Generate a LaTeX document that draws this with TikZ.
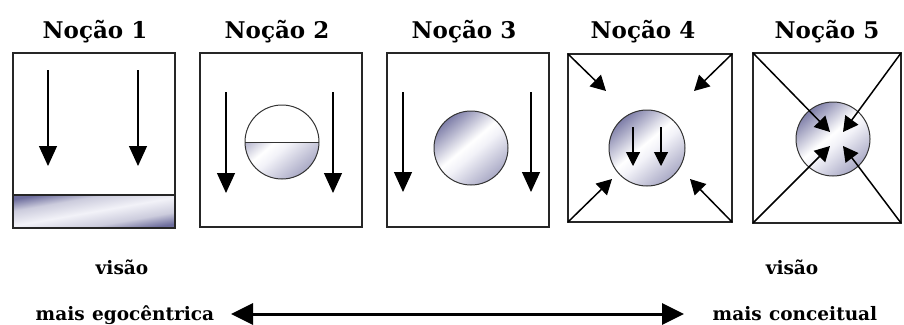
\documentclass[tikz,border=0pt]{standalone}
\usepackage{fontspec}
\setmainfont{DejaVu Serif}
\usetikzlibrary{arrows.meta}
\definecolor{gdark}{RGB}{84,84,140}
\definecolor{glight}{RGB}{242,242,248}
\pgfdeclarehorizontalshading{ball}{100bp}{color(0bp)=(gdark!50); color(25bp)=(gdark!50); color(46bp)=(glight); color(53bp)=(white); color(75bp)=(gdark!75); color(100bp)=(gdark!75)}
\pgfdeclarehorizontalshading{band}{100bp}{color(0bp)=(gdark!90); color(25bp)=(gdark!85); color(36bp)=(gdark!30); color(50bp)=(glight); color(64bp)=(gdark!30); color(75bp)=(gdark!85); color(100bp)=(gdark!90)}
\tikzset{
  boxline/.style={draw=black!85, line width=1.6pt},
  ballfill/.style={shading=ball, shading angle=130},
  ballline/.style={draw=black!80, line width=1pt},
  dnarrow/.style={-{Triangle[width=18pt,length=20pt]}, line width=1.2pt},
  inarrow/.style={-{Triangle[width=14pt,length=14pt]}, line width=1.1pt},
  diagarrow/.style={-{Triangle[width=16pt,length=15pt]}, line width=1.5pt},
  titletext/.style={font=\fontsize{23}{26}\selectfont\bfseries, anchor=base, inner sep=0pt},
  bottext/.style={font=\fontsize{18.5}{21}\selectfont\bfseries, anchor=base, inner sep=0pt},
  bigarrow/.style={{Triangle[width=21pt,length=22pt]}-{Triangle[width=21pt,length=22pt]}, line width=3pt}
}
\begin{document}
\begin{tikzpicture}[x=1pt,y=-1pt]
\useasboundingbox (0,0) rectangle (904,324);
% titles
\node[titletext] (t1) at (95,38) {Noção 1};
\node[titletext] (t2) at (277,38) {Noção 2};
\node[titletext] (t3) at (464,38) {Noção 3};
\node[titletext] (t4) at (643,38) {Noção 4};
\node[titletext] (t5) at (827,38) {Noção 5};

% ---- box 1
\shade[shading=band, shading angle=100] (13,195) rectangle (175,228);
\draw[boxline] (13,53) rectangle (175,228);
\draw[boxline] (13,195) -- (175,195);
\coordinate (a1s) at (48,70); \coordinate (a1e) at (48,166);
\coordinate (b1s) at (138,70); \coordinate (b1e) at (138,166);
\draw[dnarrow] (a1s) -- (a1e);
\draw[dnarrow] (b1s) -- (b1e);

% ---- box 2
\draw[boxline] (200,53) rectangle (362,227);
\coordinate (c2) at (282,142);
\begin{scope}
\clip (240,142) rectangle (325,185);
\shade[ballfill] (c2) circle (37);
\end{scope}
\draw[ballline] (c2) circle (37);
\draw[ballline] (245,142) -- (319,142);
\coordinate (a2s) at (226,92); \coordinate (a2e) at (226,193);
\coordinate (b2s) at (333,92); \coordinate (b2e) at (333,193);
\draw[dnarrow] (a2s) -- (a2e);
\draw[dnarrow] (b2s) -- (b2e);

% ---- box 3
\draw[boxline] (387,53) rectangle (549,227);
\coordinate (c3) at (471,148);
\shade[ballfill] (c3) circle (37);
\draw[ballline] (c3) circle (37);
\coordinate (a3s) at (403,92); \coordinate (a3e) at (403,192);
\coordinate (b3s) at (531,92); \coordinate (b3e) at (531,192);
\draw[dnarrow] (a3s) -- (a3e);
\draw[dnarrow] (b3s) -- (b3e);

% ---- box 4
\draw[boxline] (568,54) rectangle (732,222);
\coordinate (c4) at (647,148);
\shade[ballfill] (c4) circle (38);
\draw[ballline] (c4) circle (38);
\coordinate (i4as) at (633,127); \coordinate (i4ae) at (633,166);
\coordinate (i4bs) at (661,127); \coordinate (i4be) at (661,166);
\draw[inarrow] (i4as) -- (i4ae);
\draw[inarrow] (i4bs) -- (i4be);
\coordinate (k4tl) at (568,54); \coordinate (k4tr) at (732,54);
\coordinate (k4bl) at (568,222); \coordinate (k4br) at (732,222);
\coordinate (e4tl) at (606,91); \coordinate (e4tr) at (694,91);
\coordinate (e4bl) at (612,179); \coordinate (e4br) at (690,179);
\draw[diagarrow] (k4tl) -- (e4tl);
\draw[diagarrow] (k4tr) -- (e4tr);
\draw[diagarrow] (k4bl) -- (e4bl);
\draw[diagarrow] (k4br) -- (e4br);

% ---- box 5
\coordinate (c5) at (833,139);
\shade[ballfill] (c5) circle (37);
\draw[ballline] (c5) circle (37);
\draw[boxline] (753,53) rectangle (901,223);
\coordinate (k5tl) at (753,53); \coordinate (k5tr) at (901,53);
\coordinate (k5bl) at (753,223); \coordinate (k5br) at (901,223);
\coordinate (e5tl) at (830,132); \coordinate (e5tr) at (843,132);
\coordinate (e5bl) at (830,146); \coordinate (e5br) at (843,146);
\draw[diagarrow] (k5tl) -- (e5tl);
\draw[diagarrow] (k5tr) -- (e5tr);
\draw[diagarrow] (k5bl) -- (e5bl);
\draw[diagarrow] (k5br) -- (e5br);

% ---- bottom
\node[bottext] (v1) at (122,274) {visão};
\node[bottext] (m1) at (125,320) {mais\hspace{0.4em}egocêntrica};
\node[bottext] (v2) at (792,274) {visão};
\node[bottext] (m2) at (795,320) {mais\hspace{0.4em}conceitual};
\coordinate (al) at (231,314);
\coordinate (ar) at (684,314);
\draw[bigarrow] (al) -- (ar);
\end{tikzpicture}
\end{document}
